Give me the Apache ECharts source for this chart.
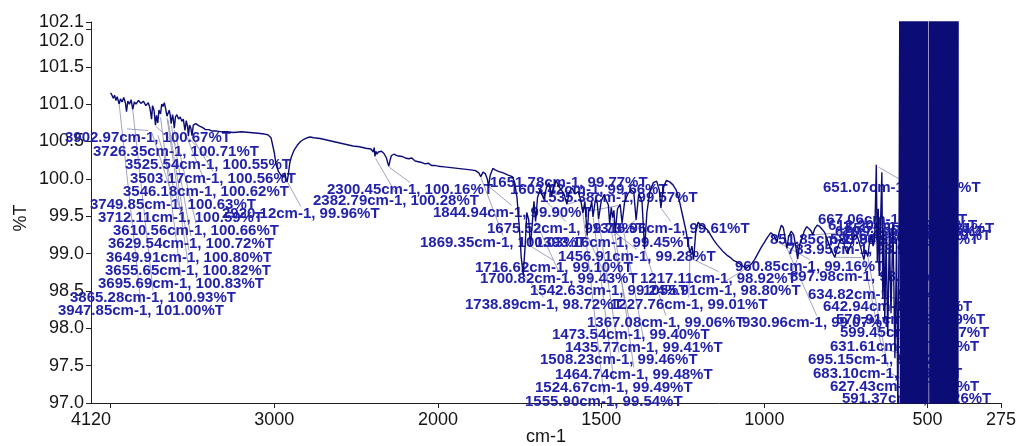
<!DOCTYPE html>
<html><head><meta charset="utf-8">
<script src="https://cdn.jsdelivr.net/npm/echarts@6.0.0/dist/echarts.min.js"></script>
<style>html,body{margin:0;padding:0;background:#fff}#c{width:1019px;height:446px}</style>
</head><body><div id="c"></div>
<script>
// ---- Data (wavenumber cm-1, %T) ----
const spectrumHigh = [[4000,101.15],[3992,101.12],[3984,101.08],[3976,101.12],[3968,101.05],[3960,101.10],[3948,101.00],[3940,101.07],[3930,101.03],[3920,101.09],[3910,101.02],[3903,100.90],[3895,101.04],[3885,101.00],[3875,101.06],[3865,100.93],[3855,101.03],[3845,101.00],[3830,101.05],[3815,101.01],[3800,101.04],[3785,100.98],[3770,101.02],[3760,100.95],[3750,100.80],[3744,100.98],[3735,100.92],[3726,100.72],[3720,100.85],[3712,100.75],[3705,100.92],[3695,100.87],[3688,101.00],[3680,100.97],[3672,101.02],[3665,100.95],[3656,100.84],[3650,100.82],[3642,100.92],[3636,100.85],[3630,100.74],[3622,100.86],[3617,100.80],[3611,100.68],[3604,100.83],[3595,100.86],[3585,100.80],[3575,100.83],[3565,100.77],[3556,100.80],[3546,100.65],[3538,100.78],[3530,100.70],[3525,100.57],[3518,100.72],[3510,100.68],[3503,100.58],[3495,100.72],[3480,100.74],[3460,100.71],[3440,100.69],[3420,100.66],[3400,100.66],[3380,100.64],[3350,100.64],[3320,100.63],[3290,100.63],[3250,100.62],[3200,100.63],[3150,100.62],[3100,100.61],[3060,100.60],[3040,100.59],[3020,100.55],[3010,100.45],[3000,100.35],[2990,100.20],[2975,100.10],[2960,100.05],[2945,100.03],[2935,100.08],[2928,99.99],[2922,99.96],[2915,100.05],[2905,100.22],[2895,100.30],[2880,100.38],[2870,100.36],[2860,100.45],[2840,100.50],[2820,100.53],[2800,100.55],[2780,100.56],[2760,100.55],[2720,100.54],[2680,100.52],[2640,100.50],[2600,100.48],[2560,100.46],[2520,100.44],[2480,100.43],[2440,100.41],[2410,100.40],[2395,100.36],[2390,100.42],[2385,100.30],[2380,100.37],[2372,100.33],[2365,100.36],[2355,100.35],[2345,100.37],[2330,100.34],[2315,100.28],[2305,100.20],[2300,100.17],[2293,100.25],[2285,100.31],[2270,100.33],[2250,100.31],[2220,100.30],[2200,100.28],[2180,100.27],[2160,100.28],[2140,100.24],[2120,100.23],[2100,100.22],[2080,100.20],[2060,100.21],[2040,100.18],[2020,100.18],[2000,100.17]];

const spectrumLow = [[2000,100.17],[1980,100.16],[1960,100.15],[1940,100.14],[1920,100.13],[1900,100.12],[1885,100.11],[1875,100.08],[1869,100.03],[1862,100.09],[1855,100.07],[1849,100.00],[1845,99.90],[1840,100.05],[1832,100.14],[1825,100.12],[1815,100.10],[1800,100.08],[1785,100.05],[1772,100.03],[1765,99.95],[1758,99.75],[1750,99.30],[1745,98.95],[1739,98.72],[1733,99.10],[1728,99.55],[1722,99.45],[1717,99.10],[1712,99.35],[1706,99.70],[1701,99.43],[1695,99.75],[1688,99.85],[1682,99.80],[1676,99.73],[1668,99.88],[1660,99.95],[1652,99.77],[1645,99.90],[1638,99.98],[1630,99.90],[1622,99.85],[1614,99.80],[1605,99.66],[1598,99.82],[1590,99.88],[1580,99.80],[1570,99.83],[1562,99.70],[1556,99.54],[1550,99.70],[1543,99.24],[1538,99.60],[1535,99.57],[1529,99.70],[1525,99.49],[1518,99.72],[1512,99.68],[1508,99.46],[1500,99.70],[1492,99.78],[1485,99.72],[1478,99.65],[1474,99.40],[1469,99.62],[1465,99.48],[1461,99.58],[1457,99.28],[1450,99.60],[1442,99.66],[1436,99.41],[1428,99.70],[1418,99.80],[1408,99.85],[1400,99.82],[1393,99.45],[1385,99.80],[1375,99.70],[1367,99.06],[1360,99.55],[1350,99.85],[1340,99.95],[1330,99.97],[1322,99.85],[1317,99.61],[1310,99.88],[1300,99.98],[1290,99.96],[1280,99.92],[1270,99.85],[1260,99.70],[1250,99.50],[1240,99.30],[1234,99.15],[1228,99.01],[1222,99.10],[1217,98.92],[1210,99.30],[1203,99.42],[1195,99.38],[1185,99.36],[1175,99.32],[1165,99.25],[1155,99.18],[1145,99.12],[1135,99.07],[1125,99.02],[1115,98.98],[1105,98.95],[1095,98.91],[1085,98.89],[1075,98.86],[1065,98.83],[1056,98.80],[1048,98.83],[1040,98.86],[1030,98.92],[1020,99.00],[1010,99.08],[1000,99.15],[990,99.22],[980,99.28],[972,99.25],[966,99.20],[961,99.16],[955,99.28],[948,99.38],[942,99.35],[936,99.20],[931,99.07],[926,99.22],[918,99.30],[910,99.25],[904,99.10],[898,98.93],[892,99.12],[885,99.20],[878,99.30],[870,99.36],[862,99.33],[856,99.30],[852,99.25],[846,99.33],[838,99.38],[830,99.36],[822,99.32],[815,99.28],[808,99.20],[800,99.10],[792,99.02],[784,98.95],[778,99.05],[770,99.15],[762,99.20],[754,99.10],[746,99.00],[738,99.08],[730,99.18],[722,99.25],[714,99.22],[706,99.10],[700,99.00],[695,98.92],[690,99.05],[683,98.96],[678,99.15],[672,99.25],[667,99.10],[662,99.20],[657,100.19],[654,98.90],[651,99.60],[648,98.70],[644,99.40],[640,100.09],[637,98.40],[634,99.30],[631,98.10],[627,99.20],[622,97.90],[617,99.30],[612,98.20],[606,99.40],[600,97.60],[595,99.20],[591,96.80],[587,99.60]];

// off-scale saturated region (values beyond the plotted range), '-' = gap
const spectrumSaturated = [[584,104],[582,91],[580,106],[578,89],[576,108],[574,88],[572,107],[570,90],[568,109],[566,87],[564,106],[562,89],[560,110],[558,88],[556,107],[554,90],[552,108],[550,86],[548,109],[546,89],[544,106],[542,88],[540,110],[538,87],[536,108],[534,90],[532,107],[530,88],[528,109],[526,86],[524,108],[522,89],[520,110],[518,87],[516,107],[514,90],[512,109],[510,88],[508,106],[506,89],[504,108],[502,87],[500,107],[498,89],[496,'-'],[494,108],[492,88],[490,109],[488,86],[486,107],[484,90],[482,110],[480,88],[478,108],[476,87],[474,106],[472,89],[470,109],[468,88],[466,107],[464,86],[462,110],[460,89],[458,108],[456,87],[454,106],[452,90],[450,109],[448,88],[446,107],[444,89],[442,110],[440,87],[438,108],[436,88],[434,106],[432,89],[430,109],[428,87],[426,107],[424,90],[422,108],[420,88],[418,110],[416,89],[414,107],[412,87],[410,109],[408,88],[406,106]];

// labelled peaks [cm-1, %T]
const peaksHigh = [[3902.97,100.67],[3726.35,100.71],[3525.54,100.55],[3503.17,100.56],[3546.18,100.62],[3749.85,100.63],[3712.11,100.59],[2920.12,99.96],[3610.56,100.66],[3629.54,100.72],[3649.91,100.80],[3655.65,100.82],[3695.69,100.83],[3865.28,100.93],[3947.85,101.00],[2300.45,100.16],[2382.79,100.28]];
const peaksLow = [[1844.94,99.90],[1869.35,100.03],[1651.78,99.77],[1603.42,99.66],[1535.38,99.57],[1675.52,99.73],[1316.96,99.61],[1393.16,99.45],[1456.91,99.28],[1716.62,99.10],[1700.82,99.43],[1217.11,98.92],[1542.63,99.24],[1055.91,98.80],[1738.89,98.72],[1227.76,99.01],[1367.08,99.06],[930.96,99.07],[1473.54,99.40],[1435.77,99.41],[1508.23,99.46],[1464.74,99.48],[1524.67,99.49],[1555.90,99.54],[960.85,99.16],[897.98,98.93],[634.82,98.54],[642.94,98.47],[570.91,98.29],[599.45,97.87],[631.61,97.72],[695.15,98.92],[683.10,98.96],[627.43,97.42],[591.37,97.26],[651.07,100.16],[667.06,99.10],[851.85,99.25],[783.95,98.95],[612.20,99.28],[620.73,99.23],[606.42,99.19],[555.18,99.31],[583.84,99.13]];

// tick values
const yTickValues = [97.0,97.5,98.0,98.5,99.0,99.5,100.0,100.5,101.0,101.5,102.0,102.1];
const xHighLabels = [4120,3000,2000];
const xHighTicks = [4000,3000,2000];
const xLowLabels = [1500,1000,500,275];

// ---- Layout (pixel positions of peak annotation text: left, middle) ----
const labelPosHigh = [[65,138],[93,152],[125,165],[130,179],[123,192],[90,205],[98,218],[222,214],[113,231],[108,244],[106,258],[105,271],[98,284],[70,298],[58,311],[327,190],[313,201]];
const labelPosLow = [[433,213],[420,243],[490,183],[510,190],[540,198],[487,229],[592,229],[535,243],[558,257],[475,268],[480,279],[640,279],[530,291],[643,291],[465,305],[610,305],[587,323],[742,323],[552,335],[565,348],[540,360],[555,375],[535,388],[525,402],[735,267],[790,277],[808,295],[823,307],[836,320],[840,333],[830,347],[808,360],[813,374],[830,387],[842,399],[823,188],[818,220],[770,240],[787,250],[828,226],[835,232],[842,236],[845,229],[830,240]];

const LINE = '#0c0c76', TXT = '#2222aa', AX = '#222';
const peakText = p => p[0].toFixed(2) + 'cm-1, ' + p[1].toFixed(2) + '%T';
const peakData = arr => arr.map(p => ({value: p, name: peakText(p)}));

const axisFont = {fontFamily: 'Liberation Sans, Arial, sans-serif', fontSize: 18, color: '#151515'};
function xAxisCommon(gi, min, max, labels, ticks) {
  return {
    type: 'value', gridIndex: gi, inverse: true, min: min, max: max,
    axisLine: {show: true, onZero: false, lineStyle: {color: AX, width: 1}},
    axisTick: {show: true, inside: false, length: 5, customValues: ticks, lineStyle: {color: AX}},
    axisLabel: Object.assign({show: true, margin: 8, customValues: labels, formatter: v => String(v)}, axisFont),
    splitLine: {show: false}
  };
}

function peakSeries(gi, data, pos) {
  return {
    type: 'scatter', xAxisIndex: gi, yAxisIndex: gi, data: peakData(data),
    symbolSize: 1, itemStyle: {color: 'rgba(0,0,0,0)', opacity: 1}, z: 2, silent: true,
    label: {show: true, position: 'right', formatter: '{b}', color: TXT, textBorderWidth: 0, opacity: 1,
            fontFamily: 'Liberation Sans, Arial, sans-serif', fontWeight: 'bold', fontSize: 15},
    labelLine: {show: true, lineStyle: {color: '#8c8cae', width: 0.8, opacity: 1}},
    labelLayout: params => ({x: pos[params.dataIndex][0], y: pos[params.dataIndex][1], align: 'left', verticalAlign: 'middle'})
  };
}

const chart = echarts.init(document.getElementById('c'), null, {renderer: 'canvas'});
chart.setOption({
  animation: false,
  backgroundColor: '#fff',
  grid: [
    {left: 91, top: 22, width: 347, bottom: 43},
    {left: 438, top: 22, right: 16, bottom: 43}
  ],
  xAxis: [
    xAxisCommon(0, 2000, 4120, xHighLabels, xHighTicks),
    xAxisCommon(1, 275, 2000, xLowLabels, xLowLabels)
  ],
  yAxis: [
    {
      type: 'value', gridIndex: 0, min: 97, max: 102.1,
      axisLine: {show: true, lineStyle: {color: AX, width: 1}},
      axisTick: {show: true, length: 5, customValues: yTickValues, lineStyle: {color: AX}},
      axisLabel: Object.assign({
        show: true, margin: 7, customValues: yTickValues,
        formatter: v => { const s = v.toFixed(1); return s === '102.0' ? '{lo|' + s + '}' : s; },
        rich: {lo: {padding: [24, 0, 0, 0], fontFamily: 'Liberation Sans, Arial, sans-serif', fontSize: 18, color: '#151515'}}
      }, axisFont),
      splitLine: {show: false}
    },
    {type: 'value', gridIndex: 1, min: 97, max: 102.1, show: false, splitLine: {show: false}}
  ],
  graphic: [
    {type: 'text', x: 21, y: 218, rotation: Math.PI / 2,
     style: {text: '%T', font: '18px "Liberation Sans", Arial, sans-serif', fill: '#151515', align: 'center', verticalAlign: 'middle'}},
    {type: 'text', x: 546, y: 437,
     style: {text: 'cm-1', font: '18px "Liberation Sans", Arial, sans-serif', fill: '#151515', align: 'center', verticalAlign: 'middle'}}
  ],
  series: [
    peakSeries(0, peaksHigh, labelPosHigh),
    peakSeries(1, peaksLow, labelPosLow),
    {type: 'line', xAxisIndex: 0, yAxisIndex: 0, data: spectrumHigh, showSymbol: false, symbol: 'none',
     lineStyle: {color: LINE, width: 1.4}, z: 5, silent: true, clip: true},
    {type: 'line', xAxisIndex: 1, yAxisIndex: 1, data: spectrumLow.concat(spectrumSaturated), showSymbol: false, symbol: 'none',
     connectNulls: false, lineStyle: {color: LINE, width: 1.4}, z: 5, silent: true, clip: true}
  ]
});
</script>
</body></html>
